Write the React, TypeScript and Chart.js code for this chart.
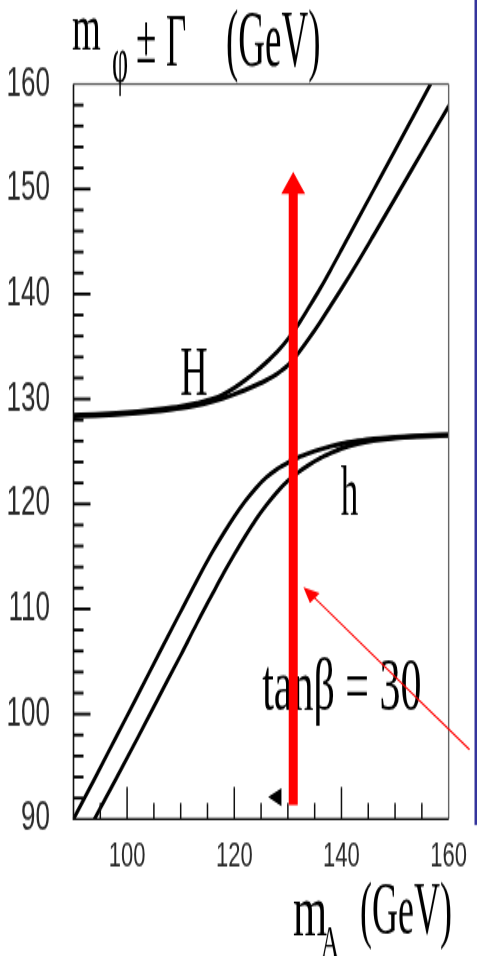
import React, { useEffect, useRef } from 'react';
import { Chart, registerables } from 'chart.js';

Chart.register(...registerables);

// m_A grid (GeV)
const mA = [90, 94, 98, 102, 106, 110, 113, 116, 118, 120, 122, 124, 126, 128, 130, 132, 134, 136, 138, 140, 143, 146, 150, 155, 160];

// heavy CP-even Higgs H: m_H + Gamma and m_H - Gamma (GeV)
const HUp = [128.45, 128.53, 128.64, 128.8, 129.02, 129.3, 129.6, 130.0, 130.45, 131.05, 131.77, 132.6, 133.5, 134.5, 135.7, 137.15, 138.8, 140.5, 142.32, 144.2, 147.05, 149.9, 153.7, 158.45, 163.2];
const HLo = [128.35, 128.43, 128.53, 128.67, 128.87, 129.13, 129.42, 129.8, 130.1, 130.45, 130.85, 131.3, 131.8, 132.4, 133.2, 134.4, 135.8, 137.3, 138.9, 140.5, 143.0, 145.6, 149.1, 153.5, 157.9];

// light CP-even Higgs h: m_h + Gamma and m_h - Gamma (GeV)
const hUp = [90.0, 93.9, 97.85, 101.8, 105.8, 109.75, 112.7, 115.5, 117.2, 118.8, 120.25, 121.5, 122.55, 123.35, 123.95, 124.45, 124.85, 125.2, 125.5, 125.75, 126.0, 126.2, 126.35, 126.5, 126.6];
const hLo = [86.4, 90.1, 93.9, 97.75, 101.7, 105.6, 108.6, 111.5, 113.4, 115.2, 116.9, 118.5, 119.9, 121.15, 122.2, 123.05, 123.75, 124.35, 124.85, 125.3, 125.75, 126.05, 126.3, 126.45, 126.55];

// axis ranges and tick steps
const xRange = [90, 160];
const yRange = [90, 160];
const xStep = 5;
const xLabelEvery = 20;
const yStep = 2;
const yLabelEvery = 10;

// annotation anchors (data coordinates)
const markerMA = 131; // vertical marker at m_A
const markerFrom = 91.33;
const markerTo = 151.65;
const pointerTip = [132.9, 112.1];
const pointerTail = [163.9, 96.6];
const smallTri = [126.3, 92.1, 128.8];
const labelH = [112.5, 130.4];
const labelh = [141.5, 118.95];
const labelTan = [125.2, 100.4];

const PAGE_W = 477;
const PAGE_H = 956;
const BASE_H = 598;
const S = PAGE_H / BASE_H; // vertical stretch of the canvas

const SERIF = '"Liberation Serif", "Times New Roman", Times, serif';
const SANS = '"Liberation Sans", Arial, Helvetica, sans-serif';

const series = (ys: number[]) => mA.map((x, i) => ({ x, y: ys[i] }));

const decor = {
  id: 'decor',
  afterDatasetsDraw(chart: any) {
    const ctx = chart.ctx as CanvasRenderingContext2D;
    const xs = chart.scales.x;
    const ys = chart.scales.y;
    const px = (v: number) => xs.getPixelForValue(v);
    const py = (v: number) => ys.getPixelForValue(v) * S;
    const a = chart.chartArea;
    const L = a.left, R = a.right, T = a.top * S, B = a.bottom * S;

    ctx.save();
    ctx.scale(1, 1 / S);

    // frame
    ctx.fillStyle = '#555';
    ctx.fillRect(L, T - 1, R - L, 2);
    ctx.fillStyle = '#666';
    ctx.fillRect(R - 0.7, T, 1.4, B - T);
    ctx.fillStyle = '#111';
    ctx.fillRect(L - 0.8, T, 1.6, B - T);
    ctx.fillRect(L - 0.8, B - 1.1, R - L + 0.8, 2.2);

    // y ticks, pointing inward: every yStep, longer at labelled values
    ctx.fillStyle = '#000';
    const nY = Math.round((yRange[1] - yRange[0]) / yStep);
    for (let i = 1; i < nY; i++) {
      const v = yRange[0] + i * yStep;
      const y = py(v);
      const len = v % yLabelEvery === 0 ? 17 : 10;
      ctx.fillRect(L, y - 1.5, len, 3);
    }
    // x ticks, pointing inward
    ctx.fillStyle = '#111';
    const nX = Math.round((xRange[1] - xRange[0]) / xStep);
    for (let i = 1; i < nX; i++) {
      const v = xRange[0] + i * xStep;
      const x = px(v);
      const len = v % xLabelEvery === 0 ? 32 : 16;
      ctx.fillRect(x - 0.75, B - len, 1.5, len);
    }

    const txt = (s: string, x: number, yb: number, size: number, vy: number, align: CanvasTextAlign = 'left') => {
      ctx.save();
      ctx.translate(x, yb);
      ctx.scale(1, vy);
      ctx.font = `${size}px ${SERIF}`;
      ctx.textAlign = align;
      ctx.textBaseline = 'alphabetic';
      ctx.fillStyle = '#000';
      ctx.fillText(s, 0, 0);
      ctx.restore();
    };

    // y-axis title: m_phi ± Gamma (GeV)
    txt('m', 72, 50, 37, 1.8);
    txt('\u03c6', 112, 82, 28, 2.4);
    txt('\u00b1', 136, 63, 37, 1.9);
    txt('\u0393', 166, 65, 35, 2.1);
    txt('(GeV)', 226, 66, 37, 2.2);

    // x-axis title: m_A (GeV)
    txt('m', 293, 935, 44, 1.65);
    txt('A', 321, 957, 25, 1.9);
    txt('(GeV)', 360, 934, 36, 2.08);

    // curve labels
    txt('H', px(labelH[0]), py(labelH[1]), 38, 1.9, 'center');
    txt('h', px(labelh[0]), py(labelh[1]), 35, 2.0, 'center');
    txt('tan\u03b2 = 30', px(labelTan[0]), py(labelTan[1]), 42, 1.8);

    // small black pointer
    ctx.fillStyle = '#000';
    ctx.beginPath();
    ctx.moveTo(px(smallTri[0]), py(smallTri[1]));
    ctx.lineTo(px(smallTri[2]), py(smallTri[1]) - 9);
    ctx.lineTo(px(smallTri[2]), py(smallTri[1]) + 9);
    ctx.closePath();
    ctx.fill();

    // thick red marker arrow
    ctx.fillStyle = '#ff0000';
    const mx = px(markerMA);
    const headBase = py(markerTo) + 22;
    ctx.fillRect(mx - 4.5, headBase - 1, 9, py(markerFrom) - headBase + 1);
    ctx.beginPath();
    ctx.moveTo(mx - 12, headBase);
    ctx.lineTo(mx + 12, headBase);
    ctx.lineTo(mx, py(markerTo));
    ctx.closePath();
    ctx.fill();

    // thin red pointer arrow
    const tx = px(pointerTip[0]), ty = py(pointerTip[1]);
    const sx = px(pointerTail[0]), sy = py(pointerTail[1]);
    const dx = tx - sx, dy = ty - sy;
    const d = Math.hypot(dx, dy);
    const ux = dx / d, uy = dy / d;
    const hl = 16, hw = 7;
    ctx.strokeStyle = '#ff0000';
    ctx.lineWidth = 1.6;
    ctx.beginPath();
    ctx.moveTo(sx, sy);
    ctx.lineTo(tx - ux * hl * 0.8, ty - uy * hl * 0.8);
    ctx.stroke();
    ctx.beginPath();
    ctx.moveTo(tx, ty);
    ctx.lineTo(tx - ux * hl - uy * hw, ty - uy * hl + ux * hw);
    ctx.lineTo(tx - ux * hl + uy * hw, ty - uy * hl - ux * hw);
    ctx.closePath();
    ctx.fill();

    // blue side rule
    ctx.fillStyle = '#34349c';
    ctx.fillRect(474.5, 0, 2.5, 825);

    ctx.restore();
  },
};

export default function App() {
  const ref = useRef<HTMLCanvasElement>(null);

  useEffect(() => {
    const canvas = ref.current;
    if (!canvas) return;
    const line = (ys: number[]) => ({
      data: series(ys),
      borderColor: '#000',
      borderWidth: 3,
      pointRadius: 0,
      fill: false,
      cubicInterpolationMode: 'monotone' as const,
    });
    const chart = new Chart(canvas, {
      type: 'line',
      data: {
        datasets: [line(HUp), line(HLo), line(hUp), line(hLo)],
      },
      options: {
        animation: false,
        responsive: false,
        devicePixelRatio: 1,
        events: [],
        layout: {
          padding: { left: 0, right: PAGE_W - 454.5, top: 84 / S, bottom: 0 },
        },
        plugins: {
          legend: { display: false },
          tooltip: { enabled: false },
          title: { display: false },
        },
        scales: {
          x: {
            type: 'linear',
            min: xRange[0],
            max: xRange[1],
            grid: { display: false, drawTicks: false },
            border: { display: false },
            afterFit: (s: any) => {
              s.height = BASE_H - 819 / S;
            },
            ticks: {
              stepSize: xStep,
              autoSkip: false,
              maxRotation: 0,
              padding: 10,
              color: '#2a2a2a',
              font: { family: SANS, size: 22 },
              callback: (v: any) => (Math.round(v) % xLabelEvery === 0 ? String(Math.round(v)) : ''),
            },
          },
          y: {
            type: 'linear',
            min: yRange[0],
            max: yRange[1],
            grid: { display: false, drawTicks: false },
            border: { display: false },
            afterFit: (s: any) => {
              s.width = 73.5;
            },
            ticks: {
              stepSize: yStep,
              autoSkip: false,
              padding: 23.5,
              color: '#2a2a2a',
              font: { family: SANS, size: 26 },
              callback: (v: any) => (Math.round(v) % yLabelEvery === 0 ? String(Math.round(v)) : ''),
            },
          },
        },
      },
      plugins: [decor],
    } as any);
    return () => chart.destroy();
  }, []);

  return (
    <div
      style={{
        position: 'fixed',
        left: 0,
        top: 0,
        width: PAGE_W,
        height: PAGE_H,
        background: '#fff',
        overflow: 'hidden',
      }}
    >
      <canvas
        ref={ref}
        width={PAGE_W}
        height={BASE_H}
        style={{ width: `${PAGE_W}px`, height: `${PAGE_H}px`, display: 'block' }}
      />
    </div>
  );
}
